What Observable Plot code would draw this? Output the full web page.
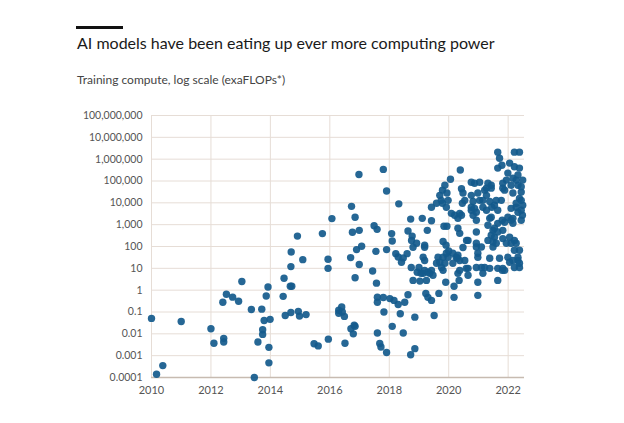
<!DOCTYPE html>
<html>
<head>
<meta charset="utf-8">
<script src="https://cdn.jsdelivr.net/npm/d3@7"></script>
<script src="https://cdn.jsdelivr.net/npm/@observablehq/plot@0.6"></script>
<style>
  html, body { margin: 0; padding: 0; background: #fff; }
  body { width: 624px; height: 423px; position: relative; overflow: hidden; font-family: Lato, "Noto Sans", sans-serif; }
  #bar { position: absolute; left: 76px; top: 26px; width: 47px; height: 3px; background: #111; }
  #title { position: absolute; left: 77px; top: 35px; font-size: 16px; line-height: 16px; color: #1a1a1a; white-space: nowrap; }
  #subtitle { position: absolute; left: 77px; top: 74px; font-size: 12px; line-height: 12px; color: #444; white-space: nowrap; }
  #chart { position: absolute; left: 0; top: 100px; }
</style>
</head>
<body>
<div id="bar"></div>
<div id="title">AI models have been eating up ever more computing power</div>
<div id="subtitle">Training compute, log scale (exaFLOPs*)</div>
<div id="chart"></div>
<script>
const years = [
  2010.00, 2010.17, 2010.38, 2011.00, 2012.00, 2012.10, 2012.43, 2012.43, 2012.40, 2012.52, 2012.73, 2012.93, 2013.04,
  2013.36, 2013.71, 2013.79, 2013.99, 2014.50, 2014.69, 2014.94, 2014.98, 2015.20, 2013.74, 2013.74, 2013.58, 2013.95, 2013.95, 2013.46,
  2015.47, 2015.61, 2015.95, 2013.92, 2013.86, 2014.43, 2014.46, 2014.67, 2014.72, 2014.69, 2014.70, 2014.91, 2015.09, 2015.75, 2015.94, 2015.94, 2016.07, 2016.30, 2016.30,
  2016.98, 2017.80, 2017.91, 2018.32, 2018.72, 2016.73, 2016.85, 2016.76, 2016.99, 2017.49, 2017.59, 2018.08, 2018.10, 2018.63, 2018.77,
  2016.90, 2017.07, 2016.70, 2017.55, 2017.91, 2018.22, 2018.30, 2018.47, 2018.41, 2018.60, 2018.75, 2018.80, 2016.99, 2017.44, 2016.85, 2017.57, 2018.74, 2018.80,
  2017.60, 2017.80, 2018.02, 2018.16, 2018.30, 2018.37, 2018.52, 2018.63, 2017.60, 2017.82, 2016.40, 2016.42, 2016.49, 2016.82, 2016.71, 2016.79, 2016.85, 2016.51,
  2017.60, 2018.10, 2018.47, 2017.68, 2017.72, 2017.91, 2018.72, 2018.86, 2018.86,
  2018.92, 2018.94, 2019.14, 2019.36, 2019.59, 2019.64, 2019.81, 2019.19, 2019.03,
  2020.39, 2020.06, 2019.87, 2019.79, 2019.70, 2019.94, 2019.98, 2019.59, 2019.42, 2019.79, 2020.43, 2020.48, 2020.46, 2020.09, 2020.20, 2020.31, 2019.11, 2019.42, 2019.84, 2019.94,
  2019.28, 2020.37, 2020.60, 2019.19, 2019.81, 2019.91, 2020.00, 2020.14, 2020.25, 2020.37, 2020.59, 2019.14, 2019.19, 2019.00, 2019.07, 2019.19, 2019.30, 2019.42, 2019.47, 2019.25,
  2019.70, 2019.76, 2019.81, 2019.90, 2020.18, 2020.35, 2020.18, 2019.23, 2019.30, 2019.42, 2019.67, 2019.51,
  2019.98, 2020.29, 2020.48, 2020.31,
  2021.27, 2020.82, 2021.04, 2020.76, 2020.93, 2021.15, 2020.37, 2019.92, 2019.75, 2020.31, 2021.49, 2021.82, 2022.10, 2021.54, 2022.05, 2022.27, 2019.92, 2020.31, 2020.54, 2020.98,
  2020.93, 2021.38, 2021.71, 2022.38, 2021.88, 2021.15, 2020.65, 2020.14, 2019.87, 2020.37,
  2020.87, 2021.04, 2021.32, 2021.43, 2021.21, 2020.76, 2020.98, 2021.15, 2021.38, 2021.54, 2021.65, 2021.77, 2020.76, 2020.82, 2020.93, 2021.38, 2021.65, 2021.88, 2022.16, 2021.54,
  2021.65, 2021.43, 2021.32, 2021.49, 2020.93, 2020.65, 2020.98, 2022.21, 2022.38, 2021.99, 2022.33, 2021.21, 2021.65, 2022.21,
  2021.65, 2021.71, 2022.21, 2022.38, 2021.79, 2022.05, 2022.21, 2022.38, 2021.65, 2021.99, 2022.16, 2022.33, 2022.49, 2022.10, 2022.33, 2021.82, 2021.88, 2022.16, 2022.44, 2022.38,
  2022.49, 2022.27, 2022.10, 2022.33, 2022.16, 2021.99, 2022.44,
  2020.65, 2021.10, 2021.38, 2021.82, 2022.38, 2020.98, 2021.65, 2020.98, 2022.05,
  2021.82, 2021.94, 2022.27, 2022.44, 2022.44, 2022.27, 2022.44, 2022.48, 2021.60, 2021.45, 2021.27, 2021.43, 2021.32, 2021.80, 2020.93, 2020.93, 2021.10, 2021.49, 2021.60, 2021.82,
  2021.94, 2022.10, 2022.21, 2022.33, 2022.16, 2021.80, 2020.87, 2020.43, 2020.54, 2020.76, 2021.43, 2021.27
];
const compute = [
  0.051, 0.00014, 0.00035, 0.037, 0.017, 0.0037, 0.0062, 0.0042, 0.28, 0.65, 0.48, 0.31, 2.5,
  0.13, 0.135, 0.041, 0.046, 0.069, 0.095, 0.107, 0.065, 0.076, 0.0155, 0.0094, 0.0042, 0.0024, 0.00047, 0.0001,
  0.0035, 0.0028, 0.0057, 1.4, 0.54, 0.52, 3.5, 1.5, 1.5, 12, 56, 300, 25, 390, 26, 10, 1900, 0.12, 0.087,
  2e5, 3.4e5, 3.5e4, 9000, 1800, 6900, 2200, 450, 550, 900, 610, 390, 180, 510, 300,
  72, 102, 31, 60, 72, 47, 33, 30, 19, 47, 190, 92, 15, 7.6, 3.7, 2.1, 11, 2.8,
  0.48, 0.46, 0.41, 0.34, 0.22, 0.083, 0.28, 0.62, 0.28, 0.1, 0.17, 0.1, 0.063, 0.025, 0.017, 0.01, 0.022, 0.0037,
  0.011, 0.022, 0.011, 0.0036, 0.0025, 0.0014, 0.0011, 0.0021, 0.058,
  140, 6.6, 5.9, 5.9, 17, 32, 32, 115, 2.6,
  3.2e5, 1.2e5, 6.4e4, 3.8e4, 2.2e4, 2.8e4, 1.3e4, 9600, 6300, 9600, 4.4e4, 2.8e4, 9600, 3300, 2700, 1950, 1950, 1500, 850, 850,
  550, 400, 190, 92, 170, 115, 62, 49, 32, 23, 10, 32, 23, 11, 5.9, 8.1, 6.6, 8.1, 4.8, 2.8,
  19, 11, 8.1, 2.3, 1.5, 2.8, 0.47, 0.71, 0.47, 0.34, 0.71, 0.069,
  32, 29, 90, 5.9,
  2.2e4, 1.15e4, 1.3e4, 4600, 3700, 6300, 3300, 6300, 1.3e4, 680, 550, 550, 1600, 265, 265, 140, 49, 40, 23, 32,
  11, 29, 29, 17, 8.1, 5.9, 4.8, 17, 17, 8.1,
  7.9e4, 8.8e4, 7.9e4, 4.7e4, 3.8e4, 2.2e4, 2.8e4, 1.3e4, 1.15e4, 7800, 4600, 1.3e4, 6300, 2700, 1600, 1950, 1150, 1300, 1150, 680,
  460, 330, 190, 160, 95, 190, 49, 190, 67, 32, 23, 11, 10, 11,
  2.1e6, 1.1e6, 2.1e6, 2.1e6, 5.3e5, 6.6e5, 4.5e5, 3.9e5, 3.9e5, 2.3e5, 1.35e5, 1.9e5, 1.1e5, 6.4e4, 6.4e4, 7.9e4, 3.8e4, 2.8e4, 3.1e4, 1.6e4,
  7800, 6300, 5600, 3700, 1950, 2200, 1600,
  10, 11, 10, 10, 11, 2.3, 2.8, 0.58, 19,
  4.7e4, 1.1e5, 1.1e5, 5.5e4, 1.3e4, 9600, 4600, 2700, 1.3e4, 6300, 4600, 2200, 940, 1600, 460, 140, 95, 95, 140, 230,
  140, 140, 67, 32, 23, 8.1, 5600, 2700, 1.3e4, 8.8e4, 6.4e4, 4.7e4
];
const xTicks = [2010, 2012, 2014, 2016, 2018, 2020, 2022];
const yTicks = [1e-4, 1e-3, 1e-2, 1e-1, 1, 10, 100, 1e3, 1e4, 1e5, 1e6, 1e7, 1e8];
const yTickLabels = ["0.0001", "0.001", "0.01", "0.1", "1", "10", "100", "1,000", "10,000", "100,000", "1,000,000", "10,000,000", "100,000,000"];

const n = Math.min(years.length, compute.length);
const data = d3.range(n).map(i => ({year: years[i], value: compute[i]}));
const xMax = 2022.55;
const yLabel = d => {
  const k = yTicks.findIndex(t => Math.abs(Math.log10(t) - Math.log10(d)) < 1e-6);
  return k >= 0 ? yTickLabels[k] : "";
};

const chart = Plot.plot({
  width: 624,
  height: 310,
  marginTop: 15,
  marginBottom: 33,
  marginLeft: 151,
  marginRight: 100,
  style: {fontFamily: "Lato, 'Noto Sans', sans-serif", fontSize: "10.5px", color: "#555", background: "#fff"},
  x: {domain: [2010, xMax], label: null},
  y: {type: "log", domain: [1e-4, 1e8], label: null},
  marks: [
    Plot.ruleY(yTicks.slice(1), {x1: 2010, x2: xMax, stroke: "#e6ddd6", strokeWidth: 1}),
    Plot.ruleX(xTicks, {y1: 1e-4, y2: 1e8, stroke: "#e6ddd6", strokeWidth: 1}),
    Plot.ruleY([1e-4], {x1: 2010, x2: xMax, stroke: "#c7bbb1", strokeWidth: 1.6}),
    Plot.dot(data, {x: "year", y: "value", r: 3.7, fill: "#135a8c", fillOpacity: 0.92, stroke: "none"}),
    Plot.axisY(yTicks, {tickSize: 0, tickPadding: 9, tickFormat: yLabel, fill: "#555", label: null}),
    Plot.axisX(xTicks, {tickSize: 0, tickPadding: 9, tickFormat: d => String(d), fill: "#555", fontSize: 11, label: null})
  ]
});
document.getElementById("chart").appendChild(chart);
</script>
</body>
</html>
